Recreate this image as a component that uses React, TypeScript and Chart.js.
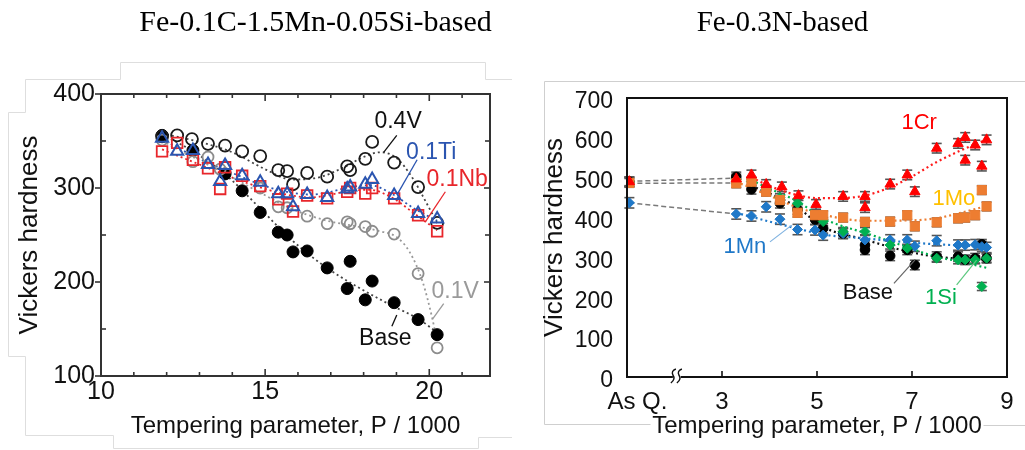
import React, { useEffect, useRef } from "react";
import { Chart, registerables } from "chart.js";
Chart.register(...registerables);

const SANS = "'Liberation Sans', Arial, sans-serif";
const SERIF = "'Liberation Serif', 'Times New Roman', serif";

// ---------------- Left panel data ----------------
const leftTitle = "Fe-0.1C-1.5Mn-0.05Si-based";
const leftXTicks = [10, 15, 20];
const leftXMinor = [11, 12, 13, 14, 16, 17, 18, 19, 21];
const leftYTicks = [100, 200, 300, 400];
const leftYMinor = [150, 250, 350];

const leftBaseP = [11.86, 12.8, 13.78, 14.3, 14.85, 15.4, 15.67, 15.85, 16.28, 16.89, 17.5, 17.59, 18.05, 18.26, 18.93, 19.66, 20.24];
const leftBaseHV = [356, 340, 315, 297, 274, 253, 250, 232, 233, 215, 193, 222, 181, 201, 178, 160, 144];

const left04VP = [11.86, 12.32, 12.77, 13.26, 13.78, 14.3, 14.85, 15.4, 15.67, 15.85, 16.28, 16.89, 17.5, 17.59, 18.05, 18.26, 18.93, 19.66, 20.24];
const left04VHV = [355, 356, 352, 347, 345, 339, 334, 319, 318, 304, 316, 312, 323, 319, 331, 349, 327, 301, 263];

const left01VP = [11.86, 12.8, 13.26, 13.63, 14.85, 15.4, 15.67, 16.28, 16.89, 17.5, 17.59, 18.05, 18.26, 18.93, 19.66, 20.24];
const left01VHV = [351, 328, 333, 320, 300, 280, 279, 270, 262, 264, 262, 259, 254, 251, 209, 130];

const leftTiP = [11.86, 12.32, 12.8, 13.26, 13.63, 13.78, 14.3, 14.85, 15.4, 15.67, 15.85, 16.28, 16.89, 17.5, 17.59, 18.05, 18.26, 18.93, 19.66, 20.24];
const leftTiHV = [353, 339, 340, 325, 307, 324, 313, 306, 294, 294, 280, 293, 290, 299, 301, 304, 309, 292, 273, 267];

const leftNbP = [11.86, 12.32, 12.8, 13.26, 13.63, 13.78, 14.3, 14.85, 15.4, 15.67, 15.85, 16.28, 16.89, 17.5, 17.59, 18.05, 18.26, 18.93, 19.66, 20.24];
const leftNbHV = [339, 348, 330, 321, 299, 322, 313, 302, 288, 294, 275, 292, 289, 296, 300, 294, 300, 289, 271, 254];

// fitted (dotted) trend curves
const fit04VP = [11.86, 13, 14, 15, 15.8, 16.6, 17.4, 18.0, 18.5, 19.0, 19.5, 19.9, 20.25];
const fit04VHV = [358, 349, 338, 320, 309, 311, 322, 333, 338, 332, 310, 285, 262];
const fitBaseLP = [11.86, 12.8, 13.8, 14.8, 15.8, 16.8, 17.8, 18.8, 19.7, 20.25];
const fitBaseLHV = [357, 339, 314, 280, 245, 217, 195, 176, 160, 146];
const fit01VP = [11.86, 12.8, 13.8, 14.8, 15.8, 16.8, 17.8, 18.5, 19.0, 19.4, 19.8, 20.1, 20.22];
const fit01VHV = [350, 333, 315, 296, 278, 266, 259, 254, 248, 232, 200, 160, 140];
const fitTiP = [11.86, 13, 14, 15, 15.8, 16.4, 17, 17.6, 18.2, 18.9, 19.5, 20.24];
const fitTiHV = [352, 331, 316, 302, 295, 293, 296, 301, 303, 293, 279, 265];
const fitNbP = [11.86, 13, 14, 15, 15.8, 16.4, 17, 17.6, 18.2, 18.9, 19.5, 20.24];
const fitNbHV = [341, 325, 311, 299, 292, 290, 293, 297, 298, 289, 274, 255];

// ---------------- Right panel data ----------------
const rightTitle = "Fe-0.3N-based";
const rightXTicks = [1.22, 3, 5, 7, 9];
const rightXLabels = ["As Q.", "3", "5", "7", "9"];
const rightXMarks = [3, 5, 7];
const rightYTicks = [0, 100, 200, 300, 400, 500, 600, 700];
const rightBreakAt = 2.05;

const rBaseP = [1.05, 3.3, 3.62, 3.93, 4.22, 4.59, 4.96, 5.13, 5.55, 6.01, 6.01, 6.54, 6.9, 7.06, 7.52, 7.97, 8.12, 8.33, 8.47, 8.57];
const rBaseHV = [490, 502, 471, 468, 436, 420, 395, 373, 360, 331, 319, 304, 319, 281, 302, 302, 294, 298, 333, 298];
const rCrP = [1.05, 3.3, 3.62, 3.93, 4.26, 4.61, 4.98, 5.55, 6.01, 6.01, 6.54, 6.9, 7.06, 7.52, 7.97, 8.12, 8.12, 8.33, 8.47, 8.57];
const rCrHV = [490, 497, 507, 483, 477, 455, 433, 453, 453, 425, 484, 507, 465, 574, 586, 601, 544, 582, 529, 595];
const rMoP = [1.05, 3.3, 3.62, 3.93, 4.22, 4.59, 4.96, 5.13, 5.55, 6.01, 6.54, 6.9, 7.06, 7.52, 7.97, 8.12, 8.33, 8.47, 8.57];
const rMoHV = [487, 486, 490, 465, 444, 412, 406, 406, 400, 389, 390, 406, 378, 388, 398, 400, 406, 469, 428];
const rMnP = [1.05, 3.3, 3.62, 3.93, 4.22, 4.59, 4.96, 5.13, 5.55, 6.01, 6.54, 6.9, 7.06, 7.52, 7.97, 8.12, 8.33, 8.47, 8.57];
const rMnHV = [437, 409, 404, 427, 396, 370, 369, 356, 360, 344, 344, 344, 328, 342, 331, 331, 332, 327, 325];
const rSiP = [1.05, 3.3, 3.62, 3.93, 4.22, 4.59, 5.13, 5.55, 6.01, 6.54, 6.9, 7.52, 7.97, 8.12, 8.33, 8.47, 8.57];
const rSiHV = [490, 495, 490, 470, 450, 436, 390, 365, 365, 331, 323, 298, 294, 294, 294, 227, 298];

const rErrBase = 12;
const rErrCr = 12;
const rErrMo = 11;
const rErrMn = 13;
const rErrSi = 10;

const dashHighP = [1.05, 3.3];
const dashHighHV = [491, 499];
const dashMidP = [1.05, 3.3];
const dashMidHV = [486, 487];
const dashMnP = [1.05, 3.3];
const dashMnHV = [437, 409];

const rFitCrP = [3.62, 4.2, 4.6, 5.0, 5.5, 6.0, 6.5, 7.0, 7.5, 8.0, 8.6];
const rFitCrHV = [500, 470, 456, 449, 449, 455, 474, 503, 538, 567, 597];
const rFitMoP = [3.3, 4.0, 4.6, 5.1, 6.0, 7.0, 7.5, 8.0, 8.6];
const rFitMoHV = [490, 455, 425, 408, 392, 393, 398, 411, 430];
const rFitMnP = [3.3, 4.0, 4.6, 5.1, 6.0, 7.0, 8.0, 8.6];
const rFitMnHV = [412, 390, 372, 358, 348, 337, 330, 327];
const rFitSiP = [3.62, 4.2, 4.6, 5.1, 5.5, 6.0, 6.8, 7.5, 8.0, 8.6];
const rFitSiHV = [493, 462, 440, 400, 380, 362, 330, 302, 290, 273];
const rFitBaseP = [3.62, 4.2, 4.6, 5.1, 6.0, 6.8, 7.5, 8.6];
const rFitBaseHV = [480, 450, 425, 378, 345, 318, 302, 294];

// ---------------- helpers ----------------
const pts = (P: number[], H: number[]) => P.map((p, i) => ({ x: p, y: H[i] }));

function pointSet(label: string, P: number[], H: number[], style: any, order: number, err?: number) {
  return {
    label,
    data: pts(P, H),
    showLine: false,
    order,
    errorBar: err,
    ...style,
  };
}

function curveSet(label: string, P: number[], H: number[], color: string, order: number, dash = [2, 3], width = 1.8) {
  return {
    label,
    data: pts(P, H),
    showLine: true,
    borderColor: color,
    borderWidth: width,
    borderDash: dash,
    pointRadius: 0,
    cubicInterpolationMode: "monotone",
    fill: false,
    order,
  };
}

function line(ctx: CanvasRenderingContext2D, x1: number, y1: number, x2: number, y2: number) {
  ctx.beginPath();
  ctx.moveTo(x1, y1);
  ctx.lineTo(x2, y2);
  ctx.stroke();
}

// annotation configs (data units)
const leftNotes = [
  { text: "0.4V", x: 19.05, y: 371, color: "#111", line: [19.01, 356, 18.61, 338] },
  { text: "0.1Ti", x: 20.06, y: 338, color: "#2b55b0", line: [19.63, 330, 19.02, 293] },
  { text: "0.1Nb", x: 20.85, y: 308.5, color: "#e8262b", line: [20.49, 296, 19.88, 264] },
  { text: "0.1V", x: 20.79, y: 190, color: "#9a9a9a", line: [20.44, 177, 20.11, 161] },
  { text: "Base", x: 18.66, y: 140, color: "#111", line: [19.01, 165, 18.86, 153] },
];
const rightNotes = [
  { text: "1Cr", x: 7.15, y: 637, color: "#ff0000", line: null as number[] | null, lineColor: "" },
  { text: "1Mo", x: 7.88, y: 447, color: "#ffc000", line: null, lineColor: "" },
  { text: "1Mn", x: 3.48, y: 326, color: "#1f78c8", line: [4.01, 339, 4.47, 381], lineColor: "#7fb2e0" },
  { text: "Base", x: 6.07, y: 211, color: "#111", line: [6.62, 235, 7.06, 293], lineColor: "#666" },
  { text: "1Si", x: 7.61, y: 198, color: "#00b050", line: [7.94, 231, 8.36, 293], lineColor: "#5cc87f" },
];

const leftArtifacts = [
  [120, 62, 485, 62], [120, 62, 120, 79], [25, 79, 120, 79], [25, 79, 25, 112], [8, 112, 25, 112],
  [8, 112, 8, 356], [8, 356, 25, 356], [25, 356, 25, 435], [25, 435, 113, 435], [113, 435, 113, 448],
  [113, 448, 478, 448], [478, 437, 478, 448], [478, 437, 512, 437], [485, 62, 485, 79], [485, 79, 512, 79],
];
const rightArtifacts = [
  [32, 81, 513, 81], [32, 81, 32, 424], [32, 424, 138, 424], [471, 425, 513, 425],
];

// ---------------- plugins ----------------
const leftDeco = {
  id: "leftDeco",
  beforeDraw(chart: any) {
    const { ctx } = chart;
    ctx.save();
    ctx.fillStyle = "#fff";
    ctx.fillRect(0, 0, chart.width, chart.height);
    ctx.strokeStyle = "#dedede";
    ctx.lineWidth = 1;
    for (const s of leftArtifacts) line(ctx, s[0] + 0.5, s[1] + 0.5, s[2] + 0.5, s[3] + 0.5);
    ctx.fillStyle = "#000";
    ctx.font = `30px ${SERIF}`;
    ctx.textAlign = "center";
    ctx.textBaseline = "alphabetic";
    ctx.fillText(leftTitle, 315.5, 31);
    ctx.restore();
  },
  afterDraw(chart: any) {
    const { ctx, chartArea: a } = chart;
    const xs = chart.scales.x;
    const ys = chart.scales.y;
    ctx.save();
    ctx.strokeStyle = "#333";
    ctx.lineWidth = 2;
    ctx.strokeRect(a.left, a.top, a.right - a.left, a.bottom - a.top);
    ctx.lineWidth = 1.6;
    for (const v of leftXTicks) {
      const p = xs.getPixelForValue(v);
      line(ctx, p, a.bottom, p, a.bottom - 7);
      line(ctx, p, a.top, p, a.top + 7);
    }
    for (const v of leftXMinor) {
      const p = xs.getPixelForValue(v);
      line(ctx, p, a.bottom, p, a.bottom - 4);
      line(ctx, p, a.top, p, a.top + 4);
    }
    for (const v of leftYTicks) {
      const p = ys.getPixelForValue(v);
      line(ctx, a.left - 6, p, a.left, p);
      line(ctx, a.right, p, a.right - 6, p);
    }
    for (const v of leftYMinor) {
      const p = ys.getPixelForValue(v);
      line(ctx, a.left, p, a.left + 5, p);
      line(ctx, a.right, p, a.right - 5, p);
    }
    ctx.font = `23px ${SANS}`;
    ctx.textAlign = "center";
    ctx.textBaseline = "middle";
    for (const n of leftNotes) {
      ctx.strokeStyle = n.color;
      ctx.lineWidth = 1.3;
      line(ctx, xs.getPixelForValue(n.line[0]), ys.getPixelForValue(n.line[1]), xs.getPixelForValue(n.line[2]), ys.getPixelForValue(n.line[3]));
      ctx.fillStyle = n.color;
      ctx.fillText(n.text, xs.getPixelForValue(n.x), ys.getPixelForValue(n.y));
    }
    ctx.restore();
  },
};

const rightDeco = {
  id: "rightDeco",
  beforeDraw(chart: any) {
    const { ctx } = chart;
    ctx.save();
    ctx.fillStyle = "#fff";
    ctx.fillRect(0, 0, chart.width, chart.height);
    ctx.strokeStyle = "#cfcfcf";
    ctx.lineWidth = 1;
    for (const s of rightArtifacts) line(ctx, s[0] + 0.5, s[1] + 0.5, s[2] + 0.5, s[3] + 0.5);
    ctx.fillStyle = "#000";
    ctx.font = `29px ${SERIF}`;
    ctx.textAlign = "center";
    ctx.textBaseline = "alphabetic";
    ctx.fillText(rightTitle, 270.5, 31);
    ctx.restore();
  },
  beforeDatasetsDraw(chart: any) {
    const { ctx } = chart;
    const xs = chart.scales.x;
    const ys = chart.scales.y;
    ctx.save();
    ctx.strokeStyle = "#555";
    ctx.lineWidth = 1.6;
    chart.data.datasets.forEach((ds: any) => {
      if (!ds.errorBar) return;
      for (const d of ds.data) {
        const x = xs.getPixelForValue(d.x);
        const y1 = ys.getPixelForValue(d.y - ds.errorBar);
        const y2 = ys.getPixelForValue(d.y + ds.errorBar);
        line(ctx, x, y1, x, y2);
        line(ctx, x - 5, y1, x + 5, y1);
        line(ctx, x - 5, y2, x + 5, y2);
      }
    });
    ctx.restore();
  },
  afterDraw(chart: any) {
    const { ctx, chartArea: a } = chart;
    const xs = chart.scales.x;
    const ys = chart.scales.y;
    ctx.save();
    ctx.strokeStyle = "#111";
    ctx.lineWidth = 2;
    ctx.strokeRect(a.left, a.top, a.right - a.left, a.bottom - a.top);
    ctx.lineWidth = 1.6;
    for (const v of rightXMarks) {
      const p = xs.getPixelForValue(v);
      line(ctx, p, a.bottom, p, a.bottom - 6);
    }
    // axis break
    const bx = xs.getPixelForValue(rightBreakAt);
    ctx.fillStyle = "#fff";
    ctx.fillRect(bx - 4, a.bottom - 3, 8, 6);
    ctx.strokeStyle = "#111";
    ctx.lineWidth = 1.4;
    for (const off of [-3, 3]) {
      ctx.beginPath();
      ctx.moveTo(bx + off - 3, a.bottom + 6);
      ctx.quadraticCurveTo(bx + off + 2, a.bottom + 2, bx + off - 1, a.bottom - 2);
      ctx.quadraticCurveTo(bx + off - 3, a.bottom - 6, bx + off + 2, a.bottom - 8);
      ctx.stroke();
    }
    ctx.font = `22px ${SANS}`;
    ctx.textAlign = "center";
    ctx.textBaseline = "middle";
    for (const n of rightNotes) {
      if (n.line) {
        ctx.strokeStyle = n.lineColor;
        ctx.lineWidth = 1.2;
        line(ctx, xs.getPixelForValue(n.line[0]), ys.getPixelForValue(n.line[1]), xs.getPixelForValue(n.line[2]), ys.getPixelForValue(n.line[3]));
      }
      ctx.fillStyle = n.color;
      ctx.fillText(n.text, xs.getPixelForValue(n.x), ys.getPixelForValue(n.y));
    }
    ctx.restore();
  },
};

// ---------------- configs ----------------
const tickFont = (size: number) => ({ family: SANS, size });

function leftConfig(): any {
  return {
    type: "scatter",
    data: {
      datasets: [
        pointSet("0.1Ti", leftTiP, leftTiHV, { pointStyle: "triangle", pointRadius: 7, pointBorderColor: "#2b55b0", pointBackgroundColor: "rgba(0,0,0,0)", pointBorderWidth: 2 }, 1),
        pointSet("0.1Nb", leftNbP, leftNbHV, { pointStyle: "rect", pointRadius: 7.5, pointBorderColor: "#e8262b", pointBackgroundColor: "rgba(0,0,0,0)", pointBorderWidth: 1.8 }, 2),
        pointSet("0.4V", left04VP, left04VHV, { pointStyle: "circle", pointRadius: 6, pointBorderColor: "#1a1a1a", pointBackgroundColor: "rgba(0,0,0,0)", pointBorderWidth: 1.8 }, 3),
        pointSet("0.1V", left01VP, left01VHV, { pointStyle: "circle", pointRadius: 5.5, pointBorderColor: "#8c8c8c", pointBackgroundColor: "rgba(0,0,0,0)", pointBorderWidth: 1.8 }, 4),
        pointSet("Base", leftBaseP, leftBaseHV, { pointStyle: "circle", pointRadius: 6, pointBorderColor: "#000", pointBackgroundColor: "#000", pointBorderWidth: 1 }, 5),
        curveSet("fit 0.4V", fit04VP, fit04VHV, "#444", 10),
        curveSet("fit Base", fitBaseLP, fitBaseLHV, "#444", 11),
        curveSet("fit 0.1V", fit01VP, fit01VHV, "#999", 12),
        curveSet("fit Ti", fitTiP, fitTiHV, "#2b55b0", 13),
        curveSet("fit Nb", fitNbP, fitNbHV, "#e8262b", 14),
      ],
    },
    options: {
      animation: false,
      responsive: false,
      devicePixelRatio: 1,
      layout: { padding: { top: 94, right: 22, left: 0, bottom: 0 } },
      plugins: { legend: { display: false }, tooltip: { enabled: false } },
      scales: {
        x: {
          type: "linear",
          min: 10,
          max: 21.85,
          afterBuildTicks: (s: any) => { s.ticks = leftXTicks.map((v) => ({ value: v })); },
          afterFit: (s: any) => { s.height = 74; },
          grid: { display: false, drawTicks: false },
          border: { display: false },
          ticks: { font: tickFont(25), color: "#111", padding: 1, maxRotation: 0, autoSkip: false },
          title: { display: true, text: "Tempering parameter, P / 1000", font: tickFont(24), color: "#111", padding: { top: 0, bottom: 9 } },
        },
        y: {
          type: "linear",
          min: 100,
          max: 400,
          afterBuildTicks: (s: any) => { s.ticks = leftYTicks.map((v) => ({ value: v })); },
          afterFit: (s: any) => { s.width = 101; },
          grid: { display: false, drawTicks: false },
          border: { display: false },
          ticks: { font: tickFont(25), color: "#111", padding: 6, autoSkip: false },
          title: { display: true, text: "Vickers hardness", font: tickFont(26), color: "#111", padding: { top: 14, bottom: 0 } },
        },
      },
    },
    plugins: [leftDeco],
  };
}

function rightConfig(): any {
  return {
    type: "scatter",
    data: {
      datasets: [
        pointSet("1Cr", rCrP, rCrHV, { pointStyle: "triangle", pointRadius: 6, pointBorderColor: "#ff0000", pointBackgroundColor: "#ff0000", pointBorderWidth: 1 }, 1, rErrCr),
        pointSet("1Mo", rMoP, rMoHV, { pointStyle: "rect", pointRadius: 6.5, pointBorderColor: "#ed7d31", pointBackgroundColor: "#ed7d31", pointBorderWidth: 1 }, 2, rErrMo),
        pointSet("1Si", rSiP, rSiHV, { pointStyle: "rectRot", pointRadius: 5, pointBorderColor: "#00b050", pointBackgroundColor: "#00b050", pointBorderWidth: 1 }, 3, rErrSi),
        pointSet("1Mn", rMnP, rMnHV, { pointStyle: "rectRot", pointRadius: 5, pointBorderColor: "#1f78c8", pointBackgroundColor: "#1f78c8", pointBorderWidth: 1 }, 4, rErrMn),
        pointSet("Base", rBaseP, rBaseHV, { pointStyle: "circle", pointRadius: 4.8, pointBorderColor: "#000", pointBackgroundColor: "#000", pointBorderWidth: 1 }, 5, rErrBase),
        curveSet("fit Cr", rFitCrP, rFitCrHV, "#ff1a1a", 10, [2, 3], 2.2),
        curveSet("fit Mo", rFitMoP, rFitMoHV, "#ed7d31", 11, [2, 3], 2.2),
        curveSet("fit Mn", rFitMnP, rFitMnHV, "#1f78c8", 12, [2, 3], 2.2),
        curveSet("fit Si", rFitSiP, rFitSiHV, "#00b050", 13, [2, 3], 2.2),
        curveSet("fit Base", rFitBaseP, rFitBaseHV, "#111", 14, [2, 3], 2.2),
        curveSet("AsQ high", dashHighP, dashHighHV, "#7a7a7a", 15, [5, 3], 1.5),
        curveSet("AsQ mid", dashMidP, dashMidHV, "#7a7a7a", 16, [5, 3], 1.5),
        curveSet("AsQ Mn", dashMnP, dashMnHV, "#7a7a7a", 17, [5, 3], 1.5),
      ],
    },
    options: {
      animation: false,
      responsive: false,
      devicePixelRatio: 1,
      layout: { padding: { top: 98, right: 18, left: 0, bottom: 0 } },
      plugins: { legend: { display: false }, tooltip: { enabled: false } },
      scales: {
        x: {
          type: "linear",
          min: 1,
          max: 9,
          afterBuildTicks: (s: any) => { s.ticks = rightXTicks.map((v) => ({ value: v })); },
          afterFit: (s: any) => { s.height = 73; },
          grid: { display: false, drawTicks: false },
          border: { display: false },
          ticks: { font: tickFont(24), color: "#111", padding: 11, maxRotation: 0, autoSkip: false, callback: (_v: any, i: number) => rightXLabels[i] },
          title: { display: true, text: "Tempering parameter, P / 1000", font: tickFont(24), color: "#111", padding: { top: 0, bottom: 9 } },
        },
        y: {
          type: "linear",
          min: 0,
          max: 700,
          afterBuildTicks: (s: any) => { s.ticks = rightYTicks.map((v) => ({ value: v })); },
          afterFit: (s: any) => { s.width = 115; },
          grid: { display: false, drawTicks: false },
          border: { display: false },
          ticks: { font: tickFont(23), color: "#111", padding: 14, labelOffset: 4, autoSkip: false },
          title: { display: true, text: "Vickers hardness", font: tickFont(26), color: "#111", padding: { top: 27, bottom: 0 } },
        },
      },
    },
    plugins: [rightDeco],
  };
}

function ChartCanvas({ make, left, width }: { make: () => any; left: number; width: number }) {
  const ref = useRef<HTMLCanvasElement>(null);
  useEffect(() => {
    const chart = new Chart(ref.current as HTMLCanvasElement, make());
    return () => chart.destroy();
  }, []);
  return (
    <canvas
      ref={ref}
      width={width}
      height={450}
      style={{ position: "absolute", left, top: 0, width, height: 450, display: "block" }}
    />
  );
}

export default function App() {
  return (
    <div style={{ position: "fixed", left: 0, top: 0, width: 1025, height: 450, background: "#fff", overflow: "hidden" }}>
      <ChartCanvas make={leftConfig} left={0} width={512} />
      <ChartCanvas make={rightConfig} left={512} width={513} />
    </div>
  );
}
